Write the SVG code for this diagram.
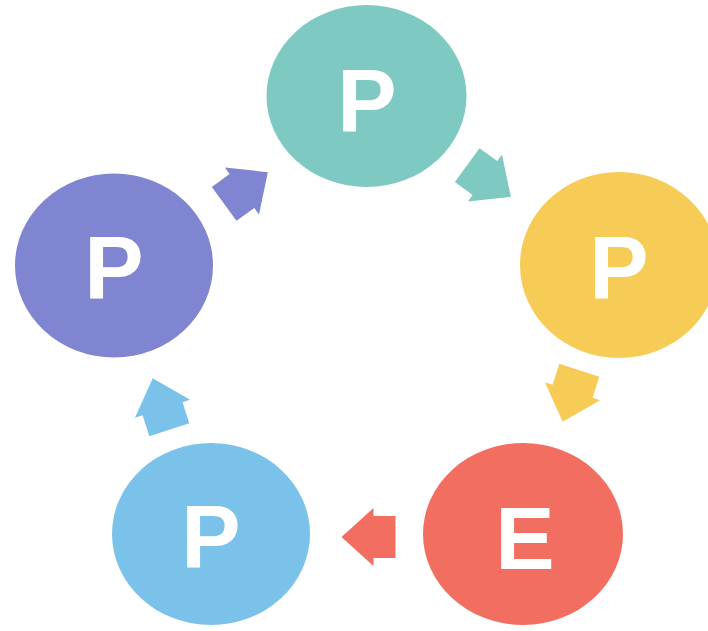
<svg xmlns="http://www.w3.org/2000/svg" width="708" height="631" viewBox="0 0 708 631">
  <style>
    .lbl { font-family: "Liberation Sans", Arial, sans-serif; font-weight: bold; font-size: 89px; fill: #ffffff; text-anchor: middle; }
    .teal { fill: #7ecac3; }
    .yellow { fill: #f6cb56; }
    .red { fill: #f26e60; }
    .blue { fill: #7bc2ea; }
    .purple { fill: #7f85d0; }
  </style>
  <defs>
    <path id="arr" d="M -27,-21 L -5,-21 L -5,-29 L 27,0 L -5,29 L -5,21 L -27,21 Z"/>
  </defs>
  <rect width="708" height="631" fill="#ffffff"/>

  <g id="connectors">
    <use href="#arr" class="purple" transform="translate(246,188) rotate(-36)"/>
    <use href="#arr" class="teal" transform="translate(489,181) rotate(36)"/>
    <use href="#arr" class="yellow" transform="translate(571,396) rotate(108)"/>
    <use href="#arr" class="red" transform="translate(368.5,537) rotate(180)"/>
    <use href="#arr" class="blue" transform="translate(161,404) rotate(252)"/>
  </g>

  <g id="node-top">
    <ellipse class="teal" cx="366.5" cy="96" rx="100" ry="91"/>
    <text class="lbl" x="367" y="132">P</text>
  </g>
  <g id="node-right">
    <ellipse class="yellow" cx="619" cy="265" rx="99" ry="93"/>
    <text class="lbl" x="619" y="299">P</text>
  </g>
  <g id="node-bottom-right">
    <ellipse class="red" cx="523" cy="534" rx="100" ry="91"/>
    <text class="lbl" x="525" y="569">E</text>
  </g>
  <g id="node-bottom-left">
    <ellipse class="blue" cx="211" cy="534" rx="99" ry="91"/>
    <text class="lbl" x="211" y="568">P</text>
  </g>
  <g id="node-left">
    <ellipse class="purple" cx="114" cy="265.5" rx="99" ry="92"/>
    <text class="lbl" x="114" y="299">P</text>
  </g>
</svg>
